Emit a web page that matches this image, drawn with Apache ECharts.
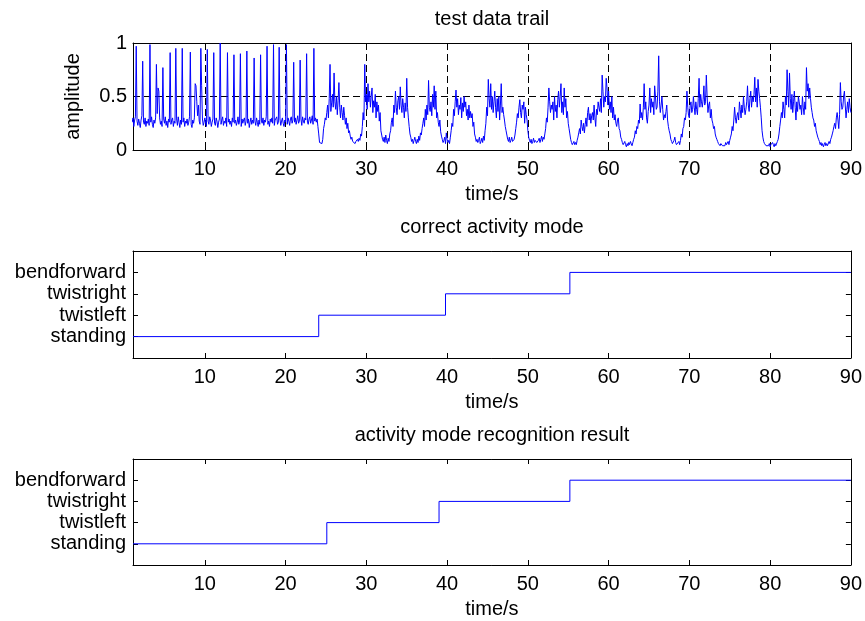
<!DOCTYPE html>
<html>
<head>
<meta charset="utf-8">
<script src="https://cdn.jsdelivr.net/npm/echarts@6/dist/echarts.min.js"></script>
<style>
  html, body { margin: 0; padding: 0; background: #fff; }
  #chart { width: 865px; height: 621px; }
</style>
</head>
<body>
<div id="chart"></div>
<script>
// Sensor amplitude trail, sampled every 0.1 s starting at 1.0 s (one row per second).
const sampleStart = 1.0;
const sampleStep = 0.1;
const amplitude = [
  .26, .30, .22, .28, .31, .97, .27, .23, .29, .25,   // 1
  .21, .28, .32, .83, .26, .24, .30, .22, .27, .25,   // 2
  .29, .23, .985, .26, .31, .24, .21, .28, .25, .30,  // 3
  .80, .34, .58, .55, .30, .24, .27, .22, .77, .29,   // 4
  .25, .31, .23, .27, .21, .29, .26, .91, .24, .28,   // 5
  .30, .22, .27, .25, .95, .29, .23, .31, .26, .21,   // 6
  .28, .24, .95, .26, .30, .22, .27, .25, .29, .23,   // 7
  .26, .31, .915, .24, .21, .28, .25, .30, .62, .60,  // 8
  .45, .32, .42, .27, .24, .95, .60, .29, .23, .26,   // 9
  .30, .25, .22, .94, .27, .24, .31, .28, .22, .26,   // 10
  .29, .91, .25, .23, .30, .27, .21, .26, .29, 1.0,   // 11
  .24, .28, .31, .23, .27, .25, .30, .22, .91, .26,   // 12
  .29, .24, .27, .22, .30, .26, .89, .25, .28, .23,   // 13
  .26, .31, .24, .27, .90, .22, .29, .25, .28, .30,   // 14
  .23, .27, .925, .25, .29, .21, .26, .30, .24, .28,  // 15
  .25, .86, .27, .23, .30, .26, .22, .28, .24, .89,   // 16
  .27, .25, .30, .23, .28, .26, .31, .97, .24, .27,   // 17
  .22, .29, .26, .30, .25, .985, .23, .28, .27, .31,  // 18
  .24, .26, .96, .29, .23, .27, .30, .25, .22, .28,   // 19
  .26, .985, .24, .30, .27, .23, .29, .31, .25, .28,  // 20
  .82, .26, .30, .24, .28, .32, .25, .27, .84, .29,   // 21
  .23, .31, .27, .25, .30, .28, .90, .26, .24, .29,   // 22
  .31, .25, .28, .32, .24, .95, .27, .30, .26, .29,   // 23
  .22, .15, .07, .06, .08, .06, .10, .20, .24, .30,   // 24
  .28, .35, .42, .30, .48, .80, .36, .44, .52, .40,   // 25
  .72, .45, .38, .50, .33, .46, .63, .40, .30, .42,   // 26
  .35, .28, .40, .32, .24, .30, .20, .25, .16, .18,   // 27
  .13, .10, .12, .08, .07, .09, .06, .08, .07, .10,   // 28
  .08, .11, .09, .15, .13, .22, .35, .28, .80, .45,   // 29
  .52, .38, .62, .45, .55, .40, .50, .58, .35, .46,   // 30
  .40, .52, .30, .45, .36, .42, .27, .35, .18, .14,   // 31
  .10, .08, .12, .07, .14, .09, .06, .11, .08, .15,   // 32
  .18, .26, .30, .22, .42, .35, .55, .40, .33, .46,   // 33
  .50, .38, .59, .42, .35, .48, .40, .30, .44, .36,   // 34
  .67, .40, .30, .22, .15, .12, .08, .10, .06, .09,   // 35
  .12, .08, .06, .10, .07, .13, .09, .16, .14, .20,   // 36
  .25, .30, .22, .38, .28, .42, .33, .65, .40, .36,   // 37
  .45, .32, .52, .40, .60, .38, .55, .30, .35, .26,   // 38
  .22, .28, .17, .13, .10, .07, .09, .12, .06, .16,   // 39
  .10, .07, .09, .06, .12, .18, .25, .22, .38, .32,   // 40
  .45, .56, .40, .48, .33, .42, .38, .49, .30, .44,   // 41
  .36, .50, .40, .45, .32, .38, .28, .42, .30, .36,   // 42
  .30, .34, .22, .26, .15, .12, .08, .10, .07, .09,   // 43
  .12, .06, .08, .11, .07, .13, .09, .18, .25, .40,   // 44
  .32, .66, .48, .40, .62, .38, .50, .35, .45, .55,   // 45
  .40, .30, .48, .36, .50, .28, .42, .62, .35, .40,   // 46
  .33, .28, .22, .18, .14, .10, .08, .12, .07, .09,   // 47
  .12, .08, .07, .10, .14, .20, .26, .34, .30, .40,   // 48
  .47, .35, .30, .42, .38, .45, .25, .40, .33, .28,   // 49
  .18, .12, .09, .07, .10, .06, .08, .11, .07, .09,   // 50
  .10, .07, .06, .09, .11, .07, .10, .13, .08, .12,   // 51
  .10, .15, .20, .30, .26, .40, .58, .45, .35, .42,   // 52
  .38, .45, .28, .50, .36, .42, .30, .47, .55, .40,   // 53
  .50, .62, .35, .45, .33, .58, .40, .48, .30, .36,   // 54
  .25, .20, .15, .10, .07, .05, .06, .08, .05, .07,   // 55
  .05, .09, .12, .16, .20, .15, .28, .22, .18, .25,   // 56
  .16, .24, .30, .22, .35, .40, .28, .34, .25, .32,   // 57
  .35, .28, .42, .30, .22, .38, .33, .45, .40, .36,   // 58
  .48, .35, .70, .55, .40, .50, .45, .67, .58, .42,   // 59
  .55, .38, .45, .35, .50, .30, .40, .28, .33, .25,   // 60
  .22, .28, .30, .20, .18, .12, .10, .07, .05, .06,   // 61
  .08, .05, .03, .06, .04, .07, .05, .08, .06, .04,   // 62
  .07, .10, .12, .18, .15, .22, .20, .28, .25, .43,   // 63
  .30, .35, .28, .40, .62, .38, .45, .30, .25, .36,   // 64
  .42, .58, .35, .48, .40, .45, .33, .60, .50, .38,   // 65
  .40, .55, .88, .45, .35, .42, .50, .38, .28, .33,   // 66
  .30, .36, .42, .28, .22, .18, .15, .10, .08, .06,   // 67
  .06, .09, .12, .07, .05, .04, .06, .08, .05, .09,   // 68
  .15, .12, .20, .22, .30, .28, .35, .55, .40, .32,   // 69
  .30, .42, .45, .35, .38, .50, .40, .33, .45, .38,   // 70
  .33, .48, .67, .40, .52, .45, .40, .47, .60, .42,   // 71
  .45, .70, .50, .35, .42, .45, .30, .38, .28, .25,   // 72
  .20, .22, .15, .12, .10, .08, .06, .05, .04, .06,   // 73
  .06, .04, .03, .05, .04, .07, .05, .06, .08, .05,   // 74
  .09, .12, .15, .22, .18, .28, .40, .30, .25, .32,   // 75
  .35, .28, .45, .38, .30, .42, .35, .50, .40, .33,   // 76
  .38, .45, .60, .42, .36, .48, .55, .40, .50, .45,   // 77
  .52, .68, .45, .58, .40, .66, .55, .48, .40, .30,   // 78
  .18, .12, .08, .06, .05, .04, .03, .05, .04, .06,   // 79
  .03, .05, .04, .07, .05, .03, .06, .04, .05, .08,   // 80
  .10, .15, .22, .28, .35, .30, .45, .38, .30, .50,   // 81
  .42, .75, .55, .40, .72, .48, .38, .52, .35, .45,   // 82
  .55, .40, .28, .45, .36, .50, .45, .38, .42, .33,   // 83
  .50, .40, .33, .45, .38, .77, .55, .62, .48, .58,   // 84
  .48, .40, .35, .30, .28, .22, .25, .18, .15, .12,   // 85
  .10, .08, .05, .07, .04, .06, .03, .05, .07, .04,   // 86
  .06, .04, .05, .08, .06, .10, .12, .15, .18, .22,   // 87
  .25, .20, .30, .35, .28, .20, .33, .63, .45, .38,   // 88
  .40, .50, .55, .42, .30, .38, .45, .35, .48, .40,   // 89
  .35                                                 // 90
];

// Activity modes (1..4) and the times at which each segment starts.
const modeNames = ['standing', 'twistleft', 'twistright', 'bendforward'];
const correctTimes = [1.1, 24.1, 39.8, 55.2, 90];
const correctModes = [1, 2, 3, 4, 4];
const resultTimes  = [1.1, 25.1, 39.0, 55.2, 90];
const resultModes  = [1, 2, 3, 4, 4];

const timeTicks = [10, 20, 30, 40, 50, 60, 70, 80, 90];
const ampTicks = [0, 0.5, 1];
const modeTicks = [1, 2, 3, 4];
const timeRange = [1.1, 90];

const FONT = 'Liberation Sans, Arial, Helvetica, sans-serif';
const FS = 20;

const grids = [
  { left: 133, top: 43,  width: 719, height: 107 },
  { left: 133, top: 251, width: 719, height: 107 },
  { left: 133, top: 459, width: 719, height: 106 }
];

const ampData = amplitude.map((v, i) => [sampleStart + i * sampleStep, v]);
const correctData = correctTimes.map((t, i) => [t, correctModes[i]]);
const resultData = resultTimes.map((t, i) => [t, resultModes[i]]);

const boxLine = { show: true, onZero: false, lineStyle: { color: '#000', width: 1 } };
const tickIn = (vals) => ({ show: true, inside: true, length: 5, customValues: vals, lineStyle: { color: '#000', width: 1 } });
const gridDash = { show: true, lineStyle: { color: '#000', width: 1, type: [7, 4] } };

function bottomX(gi, withGrid) {
  return {
    type: 'value', gridIndex: gi, position: 'bottom',
    min: timeRange[0], max: timeRange[1],
    axisLine: boxLine,
    axisTick: tickIn(timeTicks),
    axisLabel: { customValues: timeTicks, color: '#000', fontFamily: FONT, fontSize: FS, margin: 9 },
    splitLine: withGrid ? gridDash : { show: false },
    name: 'time/s', nameLocation: 'middle', nameGap: 34,
    nameTextStyle: { color: '#000', fontFamily: FONT, fontSize: FS }
  };
}
function topX(gi) {
  return {
    type: 'value', gridIndex: gi, position: 'top',
    min: timeRange[0], max: timeRange[1],
    axisLine: boxLine, axisTick: tickIn(timeTicks),
    axisLabel: { show: false }, splitLine: { show: false }
  };
}
function rightY(gi, min, max, ticks) {
  return {
    type: 'value', gridIndex: gi, position: 'right', min: min, max: max,
    axisLine: boxLine, axisTick: tickIn(ticks),
    axisLabel: { show: false }, splitLine: { show: false }
  };
}
function modeY(gi) {
  return {
    type: 'value', gridIndex: gi, position: 'left', min: 0, max: 5,
    axisLine: boxLine, axisTick: tickIn(modeTicks),
    axisLabel: {
      customValues: modeTicks, color: '#000', fontFamily: FONT, fontSize: FS, margin: 7,
      formatter: (v) => modeNames[Math.round(v) - 1] || ''
    },
    splitLine: { show: false }
  };
}

const titleStyle = { color: '#000', fontFamily: FONT, fontSize: FS, fontWeight: 'normal' };

const option = {
  animation: false,
  backgroundColor: '#fff',
  title: [
    { text: 'test data trail', left: 492, top: 9, textAlign: 'center', padding: 0, textStyle: titleStyle },
    { text: 'correct activity mode', left: 492, top: 217, textAlign: 'center', padding: 0, textStyle: titleStyle },
    { text: 'activity mode recognition result', left: 492, top: 425, textAlign: 'center', padding: 0, textStyle: titleStyle }
  ],
  grid: grids,
  xAxis: [
    bottomX(0, true), topX(0),
    bottomX(1, false), topX(1),
    bottomX(2, false), topX(2)
  ],
  yAxis: [
    {
      type: 'value', gridIndex: 0, position: 'left', min: 0, max: 1,
      axisLine: boxLine, axisTick: tickIn(ampTicks),
      axisLabel: { customValues: ampTicks, color: '#000', fontFamily: FONT, fontSize: FS, margin: 6 },
      splitLine: gridDash,
      name: 'amplitude', nameLocation: 'middle', nameGap: 50, nameRotate: 90,
      nameTextStyle: { color: '#000', fontFamily: FONT, fontSize: FS }
    },
    rightY(0, 0, 1, ampTicks),
    modeY(1), rightY(1, 0, 5, modeTicks),
    modeY(2), rightY(2, 0, 5, modeTicks)
  ],
  series: [
    {
      type: 'line', xAxisIndex: 0, yAxisIndex: 0, data: ampData,
      showSymbol: false, symbol: 'none', clip: true,
      lineStyle: { color: '#0000ff', width: 1 }
    },
    {
      type: 'line', xAxisIndex: 2, yAxisIndex: 2, data: correctData, step: 'end',
      showSymbol: false, symbol: 'none', clip: true,
      lineStyle: { color: '#0000ff', width: 1 }
    },
    {
      type: 'line', xAxisIndex: 4, yAxisIndex: 4, data: resultData, step: 'end',
      showSymbol: false, symbol: 'none', clip: true,
      lineStyle: { color: '#0000ff', width: 1 }
    }
  ]
};

const chart = echarts.init(document.getElementById('chart'), null, { renderer: 'canvas' });
chart.setOption(option);
</script>
</body>
</html>
